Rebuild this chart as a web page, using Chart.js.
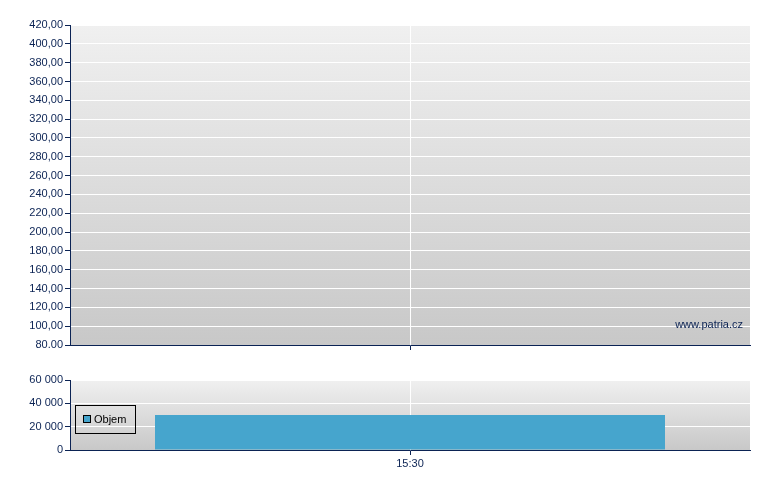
<!DOCTYPE html>
<html>
<head>
<meta charset="utf-8">
<script src="https://cdn.jsdelivr.net/npm/chart.js@4/dist/chart.umd.min.js"></script>
<style>
  body { margin: 0; background: #fff; }
  #wrap { position: relative; width: 780px; height: 490px; }
  #priceChart { position: absolute; left: 0; top: 0; }
  #volChart { position: absolute; left: 0; top: 360px; }
</style>
</head>
<body>
<div id="wrap">
  <canvas id="priceChart" width="780" height="360"></canvas>
  <canvas id="volChart" width="780" height="130"></canvas>
</div>
<script>
const categories = ['15:30'];
const price = [];
const volume = [30000];
const priceMin = 80, priceMax = 420, priceStep = 20;
const volMin = 0, volMax = 60000, volStep = 20000;

const NAVY = '#0b2354';
const FONT = { family: 'Liberation Sans, Arial, sans-serif', size: 11 };

// gradient background inside the plot area
const bgPlugin = {
    id: 'bgGrad',
    beforeDraw(chart) {
        const a = chart.chartArea;
        const ctx = chart.ctx;
        const g = ctx.createLinearGradient(0, a.top, 0, a.bottom);
        g.addColorStop(0, '#f0f0f0');
        g.addColorStop(1, '#c8c8c8');
        ctx.save();
        ctx.fillStyle = g;
        ctx.fillRect(a.left, a.top, a.right - a.left, a.bottom - a.top);
        ctx.restore();
    },
};

const watermark = {
    id: 'watermark',
    afterDraw(chart) {
        const a = chart.chartArea;
        const ctx = chart.ctx;
        ctx.save();
        ctx.font = '11px Liberation Sans, Arial, sans-serif';
        ctx.fillStyle = NAVY;
        ctx.textAlign = 'right';
        ctx.textBaseline = 'alphabetic';
        ctx.fillText('www.patria.cz', a.right - 7, a.bottom - 17);
        ctx.restore();
    },
};

const volLegend = {
    id: 'volLegend',
    afterDraw(chart) {
        const a = chart.chartArea;
        const ctx = chart.ctx;
        const ds = chart.data.datasets[0];
        const x = a.left + 5, y = a.top + 25;
        ctx.save();
        ctx.strokeStyle = '#000';
        ctx.lineWidth = 1;
        ctx.strokeRect(x + 0.5, y + 0.5, 60, 28);
        ctx.fillStyle = ds.backgroundColor;
        ctx.fillRect(x + 8.5, y + 10.5, 7, 7);
        ctx.strokeRect(x + 8.5, y + 10.5, 7, 7);
        ctx.font = '11px Liberation Sans, Arial, sans-serif';
        ctx.fillStyle = '#000';
        ctx.textBaseline = 'middle';
        ctx.fillText(ds.label, x + 19, y + 15);
        ctx.restore();
    },
};

function yAxis(min, max, step, fmt) {
    return {
        min: min,
        max: max,
        afterFit: (s) => { s.width = 70; },
        border: { color: NAVY, width: 1 },
        grid: { color: '#ffffff', lineWidth: 1, tickLength: 5, tickColor: NAVY },
        ticks: { stepSize: step, color: NAVY, font: FONT, padding: 2, callback: fmt },
    };
}

function xAxis(height, showLabel) {
    return {
        type: 'category',
        offset: true,
        afterFit: (s) => { s.height = height; },
        border: { color: NAVY, width: 1 },
        grid: { offset: false, color: '#ffffff', tickLength: 5, tickColor: NAVY },
        ticks: {
            color: NAVY,
            font: FONT,
            padding: 2,
            callback: function (v) { return showLabel ? this.getLabelForValue(v) : ''; },
        },
    };
}

const priceFmt = (v) => {
    if (v === priceMin) return v.toFixed(2);
    return v.toFixed(2).replace('.', ',');
};
const volFmt = (v) => String(v).replace(/\B(?=(\d{3})+(?!\d))/g, ' ');

new Chart(document.getElementById('priceChart'), {
    type: 'line',
    data: {
        labels: categories,
        datasets: [{ label: 'Cena', data: price, borderColor: NAVY }],
    },
    options: {
        responsive: false,
        animation: false,
        layout: { padding: { top: 25, right: 30, left: 0, bottom: 0 } },
        plugins: { legend: { display: false }, tooltip: { enabled: false } },
        scales: {
            x: xAxis(15, false),
            y: yAxis(priceMin, priceMax, priceStep, priceFmt),
        },
    },
    plugins: [bgPlugin, watermark],
});

new Chart(document.getElementById('volChart'), {
    type: 'bar',
    data: {
        labels: categories,
        datasets: [{
            label: 'Objem',
            data: volume,
            backgroundColor: '#46a5cd',
            categoryPercentage: 1,
            barPercentage: 0.75,
        }],
    },
    options: {
        responsive: false,
        animation: false,
        layout: { padding: { top: 20, right: 30, left: 0, bottom: 0 } },
        plugins: { legend: { display: false }, tooltip: { enabled: false } },
        scales: {
            x: xAxis(40, true),
            y: yAxis(volMin, volMax, volStep, volFmt),
        },
    },
    plugins: [bgPlugin, volLegend],
});
</script>
</body>
</html>
